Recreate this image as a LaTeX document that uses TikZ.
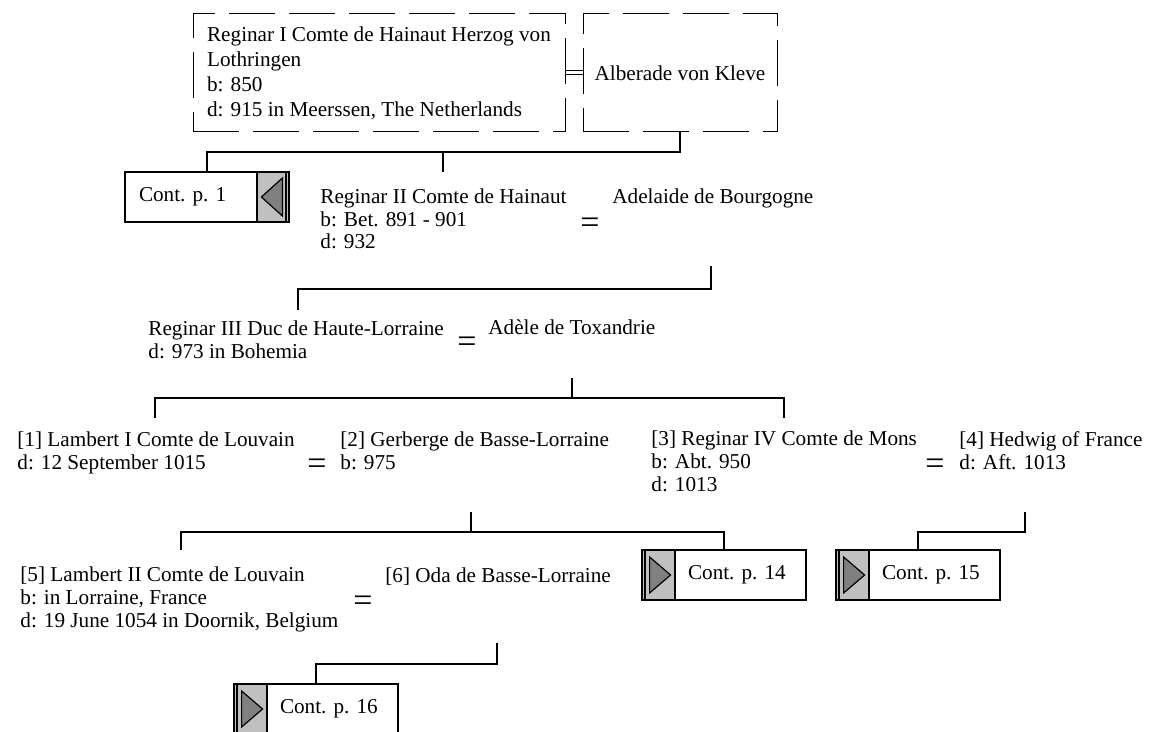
\documentclass[tikz,border=0pt]{standalone}
\usepackage{fontspec}
\setmainfont{Liberation Serif}
\usetikzlibrary{positioning,calc}

\definecolor{btngrey}{HTML}{C0C0C0}
\definecolor{trigrey}{HTML}{808080}

\tikzset{
  person/.style={anchor=base west, align=left, inner sep=0pt, font=\fontsize{10.6}{11.3}\selectfont},
  marr/.style={inner sep=0pt, font=\fontsize{17}{17}\selectfont},
  conn/.style={line width=1pt},
  dashbox/.style={draw, dash pattern=on 23pt off 7pt, line width=0.5pt, minimum height=59pt, inner sep=0pt, font=\fontsize{10.6}{12.5}\selectfont},
  contbox/.style={minimum width=82pt, minimum height=25pt, inner sep=0pt},
  boxline/.style={line width=1pt},
  tri/.style={fill=trigrey, draw, line width=0.6pt},
}

\begin{document}
\begin{tikzpicture}[x=0.5pt, y=-0.5pt]
  \useasboundingbox (0,0) rectangle (1149,732);

  % first couple
  \node[dashbox, minimum width=186pt, align=left] (regI) at (379,73) {Reginar I Comte de Hainaut Herzog von\\Lothringen\\b: 850\\d: 915 in Meerssen, The Netherlands};
  \node[dashbox, minimum width=97pt] (alberade) at (680,73) {Alberade von Kleve};
  \draw[line width=0.5pt, double, double distance=1.5pt] (regI.east) -- (alberade.west);

  % cont. p. 1
  \node[contbox] (cont1) at (207,197) {};
  \fill[btngrey] (cont1.north east) rectangle ($(cont1.south east)+(-32,0)$);
  \draw[boxline] ($(cont1.north east)+(-32,0)$) -- ($(cont1.south east)+(-32,0)$);
  \draw[boxline] ($(cont1.north east)+(-3,0)$) -- ($(cont1.south east)+(-3,0)$);
  \draw[boxline] (cont1.north west) rectangle (cont1.south east);
  \draw[tri] ($(cont1.east)+(-7,-19)$) -- ($(cont1.east)+(-7,19)$) -- ($(cont1.east)+(-28,0)$) -- cycle;
  \node[person, anchor=west] (cont1txt) at ($(cont1.west)+(14,0)$) {Cont. p. 1};

  % second generation (base = last line)
  \node[person] (regII) at (320,249) {Reginar II Comte de Hainaut\\b: Bet. 891 - 901\\d: 932};
  \node[marr] (m1) at (590,226) {=};
  \node[person] (adelaide) at (612,204) {Adelaide de Bourgogne};

  % third generation
  \node[person] (regIII) at (148,358) {Reginar III Duc de Haute-Lorraine\\d: 973 in Bohemia};
  \node[marr] (m2) at (467,345) {=};
  \node[person] (adele) at (488,335) {Adèle de Toxandrie};

  % fourth generation
  \node[person] (lambertI) at (17,469) {[1] Lambert I Comte de Louvain\\d: 12 September 1015};
  \node[marr] (m3) at (317,467) {=};
  \node[person] (gerberge) at (340,469) {[2] Gerberge de Basse-Lorraine\\b: 975};
  \node[person] (regIV) at (651,491) {[3] Reginar IV Comte de Mons\\b: Abt. 950\\d: 1013};
  \node[marr] (m4) at (935,467) {=};
  \node[person] (hedwig) at (959,469) {[4] Hedwig of France\\d: Aft. 1013};

  % fifth generation
  \node[person] (lambertII) at (20,627) {[5] Lambert II Comte de Louvain\\b: in Lorraine, France\\d: 19 June 1054 in Doornik, Belgium};
  \node[marr] (m5) at (363,604) {=};
  \node[person] (oda) at (385,582) {[6] Oda de Basse-Lorraine};

  % cont. p. 14
  \node[contbox] (cont14) at (724,575) {};
  \fill[btngrey] (cont14.north west) rectangle ($(cont14.south west)+(33,0)$);
  \draw[boxline] ($(cont14.north west)+(33,0)$) -- ($(cont14.south west)+(33,0)$);
  \draw[boxline] ($(cont14.north west)+(3,0)$) -- ($(cont14.south west)+(3,0)$);
  \draw[boxline] (cont14.north west) rectangle (cont14.south east);
  \draw[tri] ($(cont14.west)+(8,-18)$) -- ($(cont14.west)+(8,18)$) -- ($(cont14.west)+(29,0)$) -- cycle;
  \node[person, anchor=west] (cont14txt) at ($(cont14.west)+(46,0)$) {Cont. p. 14};

  % cont. p. 15
  \node[contbox] (cont15) at (918,575) {};
  \fill[btngrey] (cont15.north west) rectangle ($(cont15.south west)+(33,0)$);
  \draw[boxline] ($(cont15.north west)+(33,0)$) -- ($(cont15.south west)+(33,0)$);
  \draw[boxline] ($(cont15.north west)+(3,0)$) -- ($(cont15.south west)+(3,0)$);
  \draw[boxline] (cont15.north west) rectangle (cont15.south east);
  \draw[tri] ($(cont15.west)+(8,-18)$) -- ($(cont15.west)+(8,18)$) -- ($(cont15.west)+(29,0)$) -- cycle;
  \node[person, anchor=west] (cont15txt) at ($(cont15.west)+(46,0)$) {Cont. p. 15};

  % cont. p. 16
  \node[contbox] (cont16) at (316,709) {};
  \fill[btngrey] (cont16.north west) rectangle ($(cont16.south west)+(33,0)$);
  \draw[boxline] ($(cont16.north west)+(33,0)$) -- ($(cont16.south west)+(33,0)$);
  \draw[boxline] ($(cont16.north west)+(3,0)$) -- ($(cont16.south west)+(3,0)$);
  \draw[boxline] (cont16.north west) rectangle (cont16.south east);
  \draw[tri] ($(cont16.west)+(8,-18)$) -- ($(cont16.west)+(8,18)$) -- ($(cont16.west)+(29,0)$) -- cycle;
  \node[person, anchor=west] (cont16txt) at ($(cont16.west)+(46,0)$) {Cont. p. 16};

  % connectors
  \coordinate (regIItop) at (443,172);
  \draw[conn] (alberade.south) -- ++(0,20) coordinate (j1) -| (cont1.north);
  \draw[conn] (j1 -| regIItop) -- (regIItop);

  \coordinate (f2) at (711,266);
  \coordinate (regIIItop) at (298,310);
  \draw[conn] (f2) -- ++(0,23) -| (regIIItop);

  \coordinate (f3) at (572,378);
  \coordinate (lambertItop) at (155,418);
  \coordinate (regIVtop) at (784,418);
  \draw[conn] (f3) -- ++(0,20) coordinate (j3) -| (lambertItop);
  \draw[conn] (j3) -| (regIVtop);

  \coordinate (f4) at (471,512);
  \coordinate (lambertIItop) at (181,550);
  \draw[conn] (f4) -- ++(0,20) coordinate (j4) -| (lambertIItop);
  \draw[conn] (j4) -| (cont14.north);

  \coordinate (f5) at (1025,512);
  \draw[conn] (f5) -- ++(0,20) -| (cont15.north);

  \coordinate (f6) at (497,643);
  \draw[conn] (f6) -- ++(0,21) -| (cont16.north);
\end{tikzpicture}
\end{document}
